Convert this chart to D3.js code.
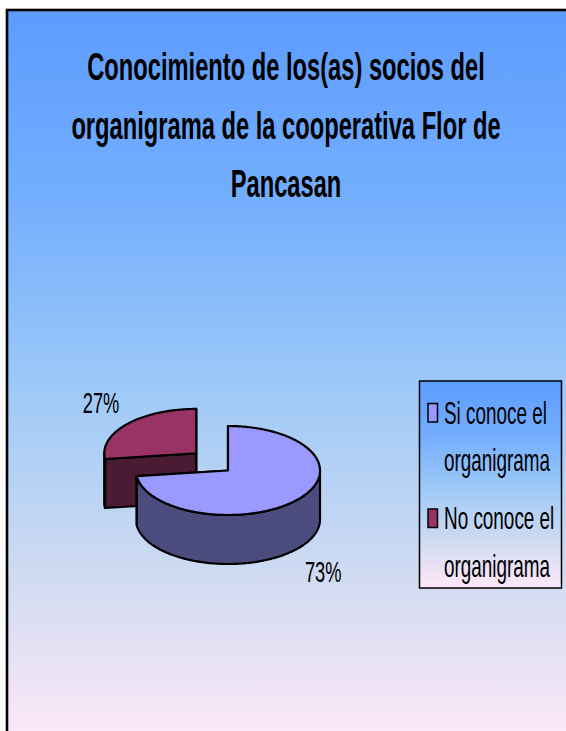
<!DOCTYPE html>
<html><head><meta charset="utf-8">
<script src="https://cdn.jsdelivr.net/npm/d3@7"></script>
<style>html,body{margin:0;padding:0;background:#fff;overflow:hidden}</style>
</head><body>
<svg id="chart" width="566" height="731"></svg>
<script>
// ---- data ----
const titleLines = ["Conocimiento de los(as) socios del", "organigrama de la cooperativa Flor de", "Pancasan"];
const categories = ["Si conoce el organigrama", "No conoce el organigrama"];
const legendLines = [["Si conoce el", "organigrama"], ["No conoce el", "organigrama"]];
const values = [73, 27];
const valueLabels = ["73%", "27%"];
const topColors = ["#9999ff", "#993366"];
const sideColors = ["#4b4b7e", "#4b1a33"];
const exploded = [false, true];

// ---- layout ----
const W = 566, H = 731;
const FONT = "'Liberation Sans', Arial, sans-serif";
const SX = 0.61;       // horizontal squeeze of the text glyphs
const SX_TITLE = 0.6;
const svg = d3.select("#chart");
const defs = svg.append("defs");

const grad = defs.append("linearGradient").attr("id", "bg")
  .attr("x1", 0).attr("y1", 0).attr("x2", 0).attr("y2", 1);
[[0, "#5c9cff"], [0.26, "#74aefd"], [0.5, "#9ac7f8"], [0.61, "#b0d0f5"], [0.8, "#d5dcf1"], [1, "#fde8f8"]]
  .forEach(([o, c]) => grad.append("stop").attr("offset", o).attr("stop-color", c));

// chart frame (extends beyond the window on right/bottom)
svg.append("rect").attr("x", 7).attr("y", 10).attr("width", 620).attr("height", 730)
  .attr("fill", "url(#bg)").attr("stroke", "#000").attr("stroke-width", 2.6);

// title
const titleX = 286, titleY0 = 80, titleStep = 58.5;
titleLines.forEach((t, i) => {
  svg.append("text")
    .attr("transform", `translate(${titleX},${titleY0 + i * titleStep}) scale(${SX_TITLE},1)`)
    .attr("text-anchor", "middle")
    .attr("font-family", FONT).attr("font-weight", "bold").attr("font-size", 39.5)
    .attr("fill", "#000").text(t);
});

// ---- 3D pie ----
const cx = 228, cy = 470.5, rx = 92, ry = 44.5, depth = 49;
const explodeDist = 0.46, explodeTiltY = 0.58;
const pie = d3.pie().sort(null).value(d => d).startAngle(0).endAngle(2 * Math.PI);
const arcs = pie(values);

const ex = d3.scaleLinear().domain([-1, 1]).range([-rx, rx]);
const ey = d3.scaleLinear().domain([-1, 1]).range([ry, -ry]);

function pt(a, ox, oy, dz = 0) { return [cx + ox + ex(Math.sin(a)), cy + oy + ey(Math.cos(a)) + dz]; }
function arcPts(a0, a1, ox, oy, dz = 0) {
  const n = Math.max(2, Math.ceil(Math.abs(a1 - a0) / 0.02));
  return d3.range(n + 1).map(k => pt(a0 + (a1 - a0) * k / n, ox, oy, dz));
}
const line = d3.line().curve(d3.curveLinearClosed);

const pieG = svg.append("g").attr("stroke", "#000").attr("stroke-width", 2.2).attr("stroke-linejoin", "round");
const order = arcs.map((d, i) => i).sort((a, b) => (exploded[b] ? 1 : 0) - (exploded[a] ? 1 : 0));
order.forEach(i => {
  const d = arcs[i];
  const mid = (d.startAngle + d.endAngle) / 2;
  const ox = exploded[i] ? explodeDist * rx * Math.sin(mid) : 0;
  const oy = exploded[i] ? -explodeTiltY * ry * Math.cos(mid) : 0;
  const c = [cx + ox, cy + oy];
  [d.startAngle, d.endAngle].forEach(a => {
    const p = pt(a, ox, oy);
    pieG.append("path").attr("fill", sideColors[i])
      .attr("d", line([c, p, [p[0], p[1] + depth], [c[0], c[1] + depth]]));
  });
  const s = Math.max(d.startAngle, Math.PI / 2), e = Math.min(d.endAngle, 3 * Math.PI / 2);
  if (e > s) {
    const topA = arcPts(s, e, ox, oy), botA = arcPts(e, s, ox, oy, depth);
    pieG.append("path").attr("fill", sideColors[i]).attr("d", line(topA.concat(botA)));
  }
  pieG.append("path").attr("fill", topColors[i])
    .attr("d", line([c].concat(arcPts(d.startAngle, d.endAngle, ox, oy))));
});

// value labels
const lkx = 1.38, lky = 1.75;
arcs.forEach((d, i) => {
  const mid = (d.startAngle + d.endAngle) / 2;
  const ox = exploded[i] ? explodeDist * rx * Math.sin(mid) : 0;
  const oy = exploded[i] ? -explodeTiltY * ry * Math.cos(mid) : 0;
  const x = cx + ox + lkx * rx * Math.sin(mid);
  const y = cy + oy - lky * ry * Math.cos(mid) + (Math.cos(mid) < 0 ? depth : 0);
  svg.append("text")
    .attr("transform", `translate(${x},${y}) scale(${SX},1)`)
    .attr("text-anchor", "middle").attr("dy", "0.36em")
    .attr("font-family", FONT).attr("font-size", 30).attr("fill", "#000")
    .text(valueLabels[i]);
});

// ---- legend ----
const lg = { x: 419.5, y: 381, w: 142, h: 207 };
svg.append("rect").attr("x", lg.x).attr("y", lg.y).attr("width", lg.w).attr("height", lg.h)
  .attr("fill", "url(#bg)").attr("stroke", "#000").attr("stroke-width", 1.5);
const firstBase = 423.5, lineStep = 47.5, itemStep = 105.5;
categories.forEach((cat, i) => {
  const by = firstBase + i * itemStep;
  svg.append("rect").attr("x", 428).attr("y", by - 20).attr("width", 9.5).attr("height", 18.5)
    .attr("fill", topColors[i]).attr("stroke", "#000").attr("stroke-width", 1.5);
  legendLines[i].forEach((t, j) => {
    svg.append("text")
      .attr("transform", `translate(444,${by + j * lineStep}) scale(${SX},1)`)
      .attr("font-family", FONT).attr("font-size", 31).attr("fill", "#000").text(t);
  });
});
</script>
</body></html>
